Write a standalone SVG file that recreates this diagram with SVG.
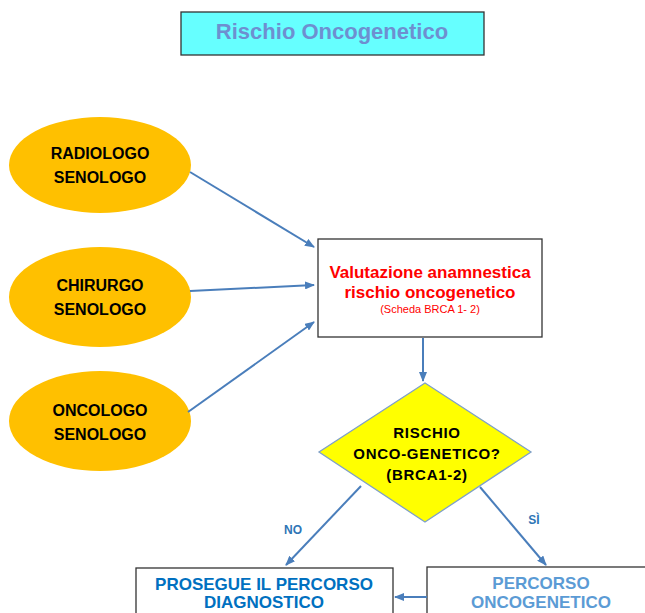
<svg xmlns="http://www.w3.org/2000/svg" width="645" height="613" viewBox="0 0 645 613">
<defs>
<marker id="ah" markerWidth="10" markerHeight="8" refX="9" refY="4" orient="auto" markerUnits="userSpaceOnUse">
<path d="M0,0 L10,4 L0,8 z" fill="#4A7EBB"/>
</marker>
<style>
text{font-family:"Liberation Sans",Arial,sans-serif;font-weight:bold;text-anchor:middle}
.ell{fill:#FFC000}
.ell-t{font-size:16px;fill:#000}
.box{fill:#fff;stroke:#333;stroke-width:1.3}
.con{stroke:#4A7EBB;stroke-width:2;fill:none;marker-end:url(#ah)}
.lbl{font-size:12px;fill:#2E75B6}
.red{font-size:17px;fill:#FF0000}
.dia{font-size:15px;fill:#000;letter-spacing:0.7px}
</style>
</defs>
<rect width="645" height="613" fill="#fff"/>
<g id="title">
<rect x="181" y="12" width="303" height="43" fill="#66FFFF" stroke="#333" stroke-width="1.3"/>
<text x="332" y="39" style="font-size:22px;fill:#6E8FD0">Rischio Oncogenetico</text>
</g>
<g id="radiologo">
<ellipse class="ell" cx="100" cy="165" rx="91" ry="48"/>
<text class="ell-t" x="100" y="159">RADIOLOGO</text>
<text class="ell-t" x="100" y="183">SENOLOGO</text>
</g>
<g id="chirurgo">
<ellipse class="ell" cx="100" cy="297" rx="91" ry="50"/>
<text class="ell-t" x="100" y="291">CHIRURGO</text>
<text class="ell-t" x="100" y="315">SENOLOGO</text>
</g>
<g id="oncologo">
<ellipse class="ell" cx="100" cy="421" rx="91" ry="50"/>
<text class="ell-t" x="100" y="416">ONCOLOGO</text>
<text class="ell-t" x="100" y="440">SENOLOGO</text>
</g>
<g id="valutazione">
<rect class="box" x="318" y="239" width="224" height="98"/>
<text class="red" x="430" y="278">Valutazione anamnestica</text>
<text class="red" x="430" y="298">rischio oncogenetico</text>
<text x="430" y="313" style="font-size:11px;font-weight:normal;fill:#FF0000">(Scheda BRCA 1- 2)</text>
</g>
<g id="rischio">
<polygon points="425,383 531,452 425,522 319,452" fill="#FFFF00" stroke="#7FA0C8" stroke-width="1.3"/>
<text class="dia" x="427" y="438">RISCHIO</text>
<text class="dia" x="427" y="459">ONCO-GENETICO?</text>
<text class="dia" x="427" y="480">(BRCA1-2)</text>
</g>
<g id="prosegue">
<rect class="box" x="136" y="568" width="257" height="60"/>
<text x="264" y="590" style="font-size:17px;fill:#0070C0">PROSEGUE IL PERCORSO</text>
<text x="264" y="608" style="font-size:17px;fill:#0070C0">DIAGNOSTICO</text>
</g>
<g id="percorso">
<rect class="box" x="427" y="567" width="230" height="60"/>
<text x="541" y="589" style="font-size:17px;fill:#5B9BD5">PERCORSO</text>
<text x="541" y="608" style="font-size:17px;fill:#5B9BD5">ONCOGENETICO</text>
</g>
<g id="connectors">
<line class="con" x1="190" y1="172" x2="314" y2="247"/>
<line class="con" x1="190" y1="291" x2="314" y2="285"/>
<line class="con" x1="188" y1="412" x2="314" y2="322"/>
<line class="con" x1="423" y1="338" x2="423" y2="381"/>
<line class="con" x1="361" y1="486" x2="286" y2="565"/>
<line class="con" x1="480" y1="487" x2="546" y2="565"/>
<line class="con" x1="427" y1="597" x2="395" y2="597"/>
<text class="lbl" x="293" y="534">NO</text>
<text class="lbl" x="534" y="524">SÌ</text>
</g>
</svg>
